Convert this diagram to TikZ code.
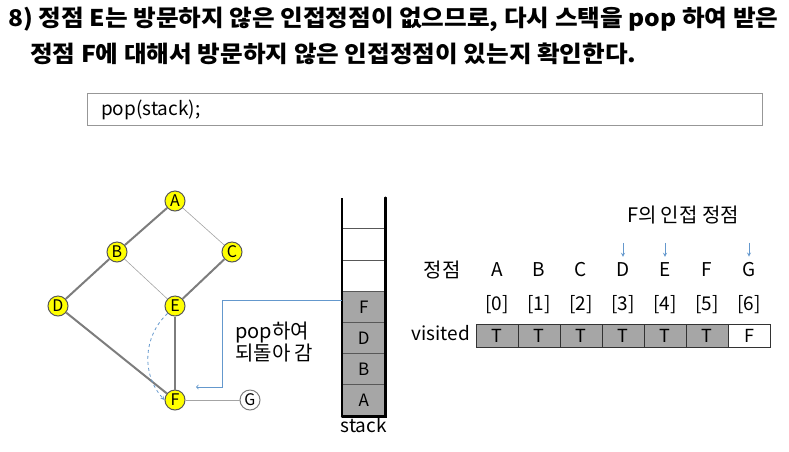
\documentclass[tikz,border=0pt]{standalone}
\usepackage{fontspec}
\setmainfont{Noto Sans CJK KR}
\usepackage{tikz}
\usetikzlibrary{arrows, positioning, calc}
\definecolor{nodeyellow}{RGB}{255, 255, 0}
\definecolor{linkblue}{RGB}{100, 152, 205}
\definecolor{cellgray}{RGB}{166, 166, 166}
\definecolor{edgegray}{RGB}{125, 125, 125}

\begin{document}
\begin{tikzpicture}[
    x=1pt, y=-1pt,
    vertex/.style={circle, draw=edgegray!70!black, line width=1pt, fill=nodeyellow, minimum size=20pt, inner sep=0pt, font=\fontsize{16}{16}\selectfont},
    spare/.style={vertex, fill=white, draw=edgegray},
    tree/.style={draw=edgegray, line width=2pt},
    link/.style={draw=edgegray!70, line width=0.6pt},
    scell/.style={draw=edgegray!70!black, line width=1pt, minimum width=42.5pt, minimum height=31.2pt, inner sep=0pt, font=\fontsize{17}{17}\selectfont},
    acell/.style={draw=black!80, line width=0.6pt, minimum width=42pt, minimum height=23.4pt, inner sep=0pt, font=\fontsize{18}{18}\selectfont},
    txt/.style={font=\fontsize{19}{22}\selectfont, inner sep=0pt},
    ktxt/.style={font=\fontsize{20}{22}\selectfont, inner sep=0pt},
    head/.style={font=\fontsize{23}{26}\selectfont\bfseries, inner sep=0pt, anchor=west},
    ptr/.style={draw=linkblue, line width=0.8pt, -stealth}
]
    \useasboundingbox (0,0) rectangle (789,451);

    % Title
    \node[head] (title1) at (8,19) {\scalebox{1.07}[1]{8) 정점 E는 방문하지 않은 인접정점이 없으므로, 다시 스택을 pop 하여 받은}};
    \node[head] (title2) at (30,54) {\scalebox{1.07}[1]{정점 F에 대해서 방문하지 않은 인접정점이 있는지 확인한다.}};

    % Code box
    \draw[draw=edgegray!80, line width=1pt] (87,93) rectangle (762,125);
    \node[txt, anchor=west] (code) at (101,110) {pop(stack);};

    % Graph
    \node[vertex] (A) at (175,201) {A};
    \node[vertex] (B) at (117,252) {B};
    \node[vertex] (C) at (232,252) {C};
    \node[vertex] (D) at (58,306) {D};
    \node[vertex] (E) at (175,306) {E};
    \node[vertex] (F) at (175,400) {F};
    \node[spare] (G) at (250,400) {G};

    \draw[tree] (A) -- (B);
    \draw[tree] (B) -- (D);
    \draw[tree] (C) -- (E);
    \draw[tree] (D) -- (F);
    \draw[tree] (E) -- (F);
    \draw[link] (A) -- (C);
    \draw[link] (B) -- (E);
    \draw[link] (F) -- (G);

    % Backtrack to F
    \draw[linkblue, line width=0.8pt, dashed, -stealth] (E.south west) to[bend right=45] (F.west);

    % Stack (bottom to top)
    \foreach \v/\i in {A/0, B/1, D/2, F/3} {
        \node[scell, fill=cellgray] (s\i) at (363.75, 400.4 - \i*31.2) {\v};
    }
    \foreach \i in {4, 5} {
        \node[scell] (s\i) at (363.75, 400.4 - \i*31.2) {};
    }
    \coordinate (top) at (363.75, 197.6);
    \draw[line width=2.2pt, line cap=round] (s0.south west) |- (s0.south east) -- (s0.south east |- top);
    \draw[line width=2.2pt] (s0.south west) -- (s0.south west |- top);
    \node[txt, anchor=north] (slabel) at ([yshift=-1pt]s0.south) {stack};

    % Return arrow
    \coordinate (ret) at (196,387);
    \draw[ptr, -to] (s3.west) ++(0,-6) -- ++(-119.5,0) |- (ret);
    \node[ktxt, anchor=west, align=left] (poplbl) at (235,342.5) {pop하여\\되돌아 감};

    % Vertex labels
    \node[ktxt] (vlbl) at (442,270) {정점};
    \foreach \v [count=\i from 0] in {A, B, C, D, E, F, G} {
        \node[txt] (l\v) at (497 + \i*42, 270) {\v};
        \node[txt] (n\i) at (497 + \i*42, 305) {[\i]};
    }

    % visited array
    \foreach \i in {0, ..., 5} {
        \node[acell, fill=cellgray] (a\i) at (497 + \i*42, 336) {T};
    }
    \node[acell, fill=white] (a6) at (749, 336) {F};
    \node[txt, anchor=east] (vis) at (470,333) {visited};

    % Neighbours of F
    \node[ktxt] (adj) at (683,215) {F의 인접 정점};
    \foreach \v in {D, E, G} {
        \draw[ptr] ([yshift=20pt]l\v.north) -- ([yshift=6pt]l\v.north);
    }
\end{tikzpicture}
\end{document}
